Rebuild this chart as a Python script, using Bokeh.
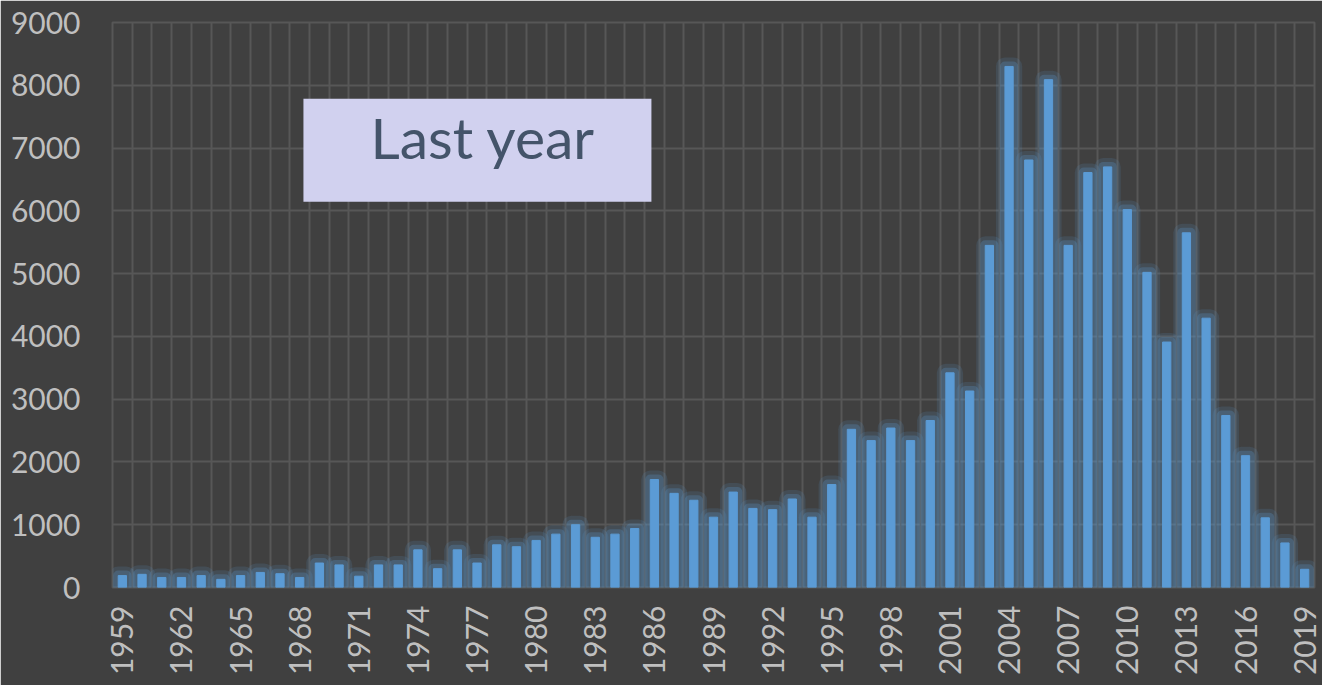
from bokeh.plotting import figure
from bokeh.models import Range1d, FixedTicker, BoxAnnotation, Label, ColumnDataSource
from bokeh.embed import file_html
from bokeh.resources import INLINE

years = list(range(1959, 2020))
values = [190, 210, 160, 160, 190, 130, 190, 240, 220, 160,
          390, 360, 180, 360, 360, 600, 300, 600, 390, 680,
          650, 750, 850, 1000, 800, 850, 940, 1720, 1500, 1390,
          1120, 1520, 1260, 1240, 1410, 1120, 1640, 2520, 2340, 2540,
          2340, 2660, 3420, 3130, 5450, 8300, 6810, 8090, 5450, 6610,
          6700, 6020, 5020, 3910, 5650, 4290, 2740, 2100, 1110, 710, 290]
x_tick_years = list(range(1959, 2020, 3))
y_ticks = list(range(0, 9001, 1000))
annotation_text = "Last year"

BG = "#404040"
GRID = "#575757"
BAR = "#5B9BD5"
LABEL = "#BFBFBF"

src = ColumnDataSource(data=dict(year=years, value=values))

p = figure(width=1322, height=685, output_backend="svg", toolbar_location=None,
           x_range=Range1d(years[0] - 0.5, years[-1] + 0.5),
           y_range=Range1d(0, 9000),
           min_border_left=112, min_border_right=8, min_border_top=22, min_border_bottom=98)

p.background_fill_color = BG
p.border_fill_color = BG
p.outline_line_color = GRID
p.outline_line_width = 2

# glow layers
p.vbar(x="year", top="value", width=0.42, source=src, fill_alpha=0,
       line_color=BAR, line_alpha=0.14, line_width=18, line_join="round")
p.vbar(x="year", top="value", width=0.42, source=src, fill_alpha=0,
       line_color=BAR, line_alpha=0.25, line_width=10, line_join="round")
p.vbar(x="year", top="value", width=0.42, source=src, fill_color=BAR, line_color=BAR, line_width=1)

p.xaxis.ticker = FixedTicker(ticks=x_tick_years)
p.yaxis.ticker = FixedTicker(ticks=y_ticks)
p.xgrid.ticker = FixedTicker(ticks=[y + 0.5 for y in years[:-1]])
p.ygrid.ticker = FixedTicker(ticks=y_ticks)
for g in (p.xgrid, p.ygrid):
    g.grid_line_color = GRID
    g.grid_line_width = 2

for ax in (p.xaxis, p.yaxis):
    ax.axis_line_color = None
    ax.major_tick_line_color = None
    ax.minor_tick_line_color = None
    ax.major_label_text_color = LABEL
    ax.major_label_text_font = "Lato"
    ax.major_label_text_font_size = "30px"

p.xaxis.major_label_orientation = 3.14159265 / 2
p.xaxis.major_label_standoff = 12
p.yaxis.major_label_standoff = 26

box = BoxAnnotation(left=1968.19, right=1985.85, bottom=6146, top=7787,
                    fill_color="#D1D1EF", fill_alpha=1.0, line_color=None, level="overlay")
p.add_layout(box)
lab = Label(x=1977.3, y=7170, text=annotation_text, text_align="center",
            text_baseline="alphabetic", text_font="Lato", text_font_size="57px",
            text_color="#44546A", level="overlay")
p.add_layout(lab)

open("out.html", "w").write(file_html(p, INLINE))
